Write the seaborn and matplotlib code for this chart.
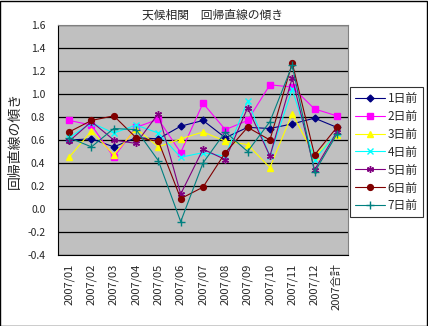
import matplotlib
matplotlib.use("Agg")
import matplotlib.pyplot as plt
import seaborn as sns
import pandas as pd
import numpy as np
from matplotlib.patches import Rectangle

# categories (months plus yearly total)
categories = ["2007/01", "2007/02", "2007/03", "2007/04", "2007/05", "2007/06",
              "2007/07", "2007/08", "2007/09", "2007/10", "2007/11", "2007/12",
              "2007合計"]

# regression slope per lag (days before)
lag1 = [0.60, 0.61, 0.54, 0.62, 0.61, 0.72, 0.77, 0.62, 0.71, 0.70, 0.74, 0.79, 0.71]
lag2 = [0.77, 0.73, 0.45, 0.71, 0.78, 0.49, 0.92, 0.69, 0.77, 1.08, 1.06, 0.87, 0.81]
lag3 = [0.45, 0.68, 0.47, 0.70, 0.54, 0.61, 0.67, 0.59, 0.56, 0.36, 0.83, 0.46, 0.64]
lag4 = [0.62, 0.75, 0.66, 0.73, 0.66, 0.45, 0.49, 0.46, 0.94, 0.46, 1.04, 0.43, 0.66]
lag5 = [0.59, 0.76, 0.60, 0.57, 0.83, 0.13, 0.52, 0.43, 0.88, 0.46, 1.14, 0.34, 0.67]
lag6 = [0.67, 0.77, 0.81, 0.62, 0.59, 0.09, 0.19, 0.49, 0.71, 0.60, 1.27, 0.47, 0.71]
lag7 = [0.62, 0.54, 0.70, 0.69, 0.42, -0.11, 0.40, 0.67, 0.50, 0.76, 1.25, 0.32, 0.65]

series_names = ["1日前", "2日前", "3日前", "4日前", "5日前", "6日前", "7日前"]
series_values = [lag1, lag2, lag3, lag4, lag5, lag6, lag7]

colors = ["#000080", "#FF00FF", "#FFFF00", "#00FFFF", "#800080", "#800000", "#008080"]
markers = ["D", "s", "^", "x", (6, 2, 0), "o", "+"]
msizes = [3.5, 4.5, 4.5, 4, 5, 4.2, 5.5]

rows = []
for name, vals in zip(series_names, series_values):
    for i, v in enumerate(vals):
        rows.append({"pos": i, "cat": categories[i], "series": name, "value": v})
df = pd.DataFrame(rows)

sns.set_style("white")
plt.rcParams["font.family"] = ["Noto Sans CJK JP", "DejaVu Sans"]

fig = plt.figure(figsize=(4.28, 3.26), dpi=100)
ax = fig.add_axes([58 / 428, 1 - 255 / 326, 290 / 428, 230 / 326])
ax.set_facecolor("#C0C0C0")

for name, c, m, ms in zip(series_names, colors, markers, msizes):
    sub = df[df["series"] == name]
    sns.lineplot(data=sub, x="pos", y="value", ax=ax, color=c, marker=m,
                 markersize=ms, markeredgecolor=c, markerfacecolor=c,
                 markeredgewidth=1.0, linewidth=0.8, label=name, legend=False)

ax.set_xlim(-0.5, len(categories) - 0.5)
ax.set_ylim(-0.4, 1.6)
ax.set_yticks(np.arange(-0.4, 1.61, 0.2))
ax.set_yticklabels([f"{t:.1f}" for t in np.arange(-0.4, 1.61, 0.2)], fontsize=7.5)
ax.yaxis.grid(True, color="black", linewidth=0.9)
ax.set_axisbelow(True)

ax.set_xticks(range(len(categories)))
ax.set_xticklabels(categories, rotation=90, fontsize=8)
ax.set_xticks(np.arange(-0.5, len(categories), 1), minor=True)
ax.tick_params(axis="x", which="major", length=0, pad=6)
ax.tick_params(axis="x", which="minor", length=3, direction="out", color="black")
ax.tick_params(axis="y", length=3, direction="out", color="black", pad=6)

for side in ["left", "bottom"]:
    ax.spines[side].set_color("black")
    ax.spines[side].set_linewidth(0.8)
for side in ["top", "right"]:
    ax.spines[side].set_color("#808080")
    ax.spines[side].set_linewidth(0.8)

ax.set_xlabel("")
ax.set_ylabel("回帰直線の傾き", fontsize=10, labelpad=4)
fig.text(213 / 428, 1 - 15 / 326, "天候相関　回帰直線の傾き", ha="center",
         va="center", fontsize=8.5)

handles, labels = ax.get_legend_handles_labels()
leg = fig.legend(handles, labels, loc="upper left",
                 bbox_to_anchor=(350 / 428, 1 - 87 / 326),
                 frameon=True, fancybox=False, edgecolor="black",
                 fontsize=8.5, handlelength=2.6, handletextpad=0.2,
                 labelspacing=0.42, borderpad=0.4, borderaxespad=0)
leg.get_frame().set_linewidth(0.8)

fig.patches.append(Rectangle((0.001, 0.001), 0.997, 0.996, transform=fig.transFigure,
                             fill=False, edgecolor="black", linewidth=1.0))

fig.savefig("out.png", dpi=100, facecolor="white")
